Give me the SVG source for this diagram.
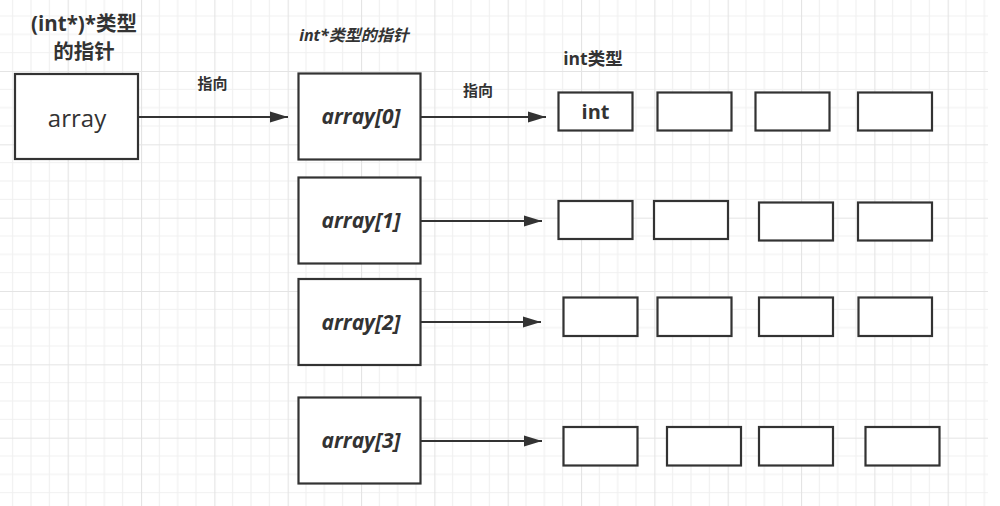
<svg xmlns="http://www.w3.org/2000/svg" width="1000" height="506" viewBox="0 0 1000 506">
  <defs>
    <pattern id="grid" patternUnits="userSpaceOnUse" x="-5.67" y="-2.33" width="73.333" height="73.333">
      <path d="M18.33 0V73.333M36.67 0V73.333M55 0V73.333M0 18.33H73.333M0 36.67H73.333M0 55H73.333" stroke="#f0f0f0" stroke-width="1.2" fill="none"/>
      <path d="M0.5 0V73.333M0 0.5H73.333" stroke="#e4e4e4" stroke-width="1.2" fill="none"/>
    </pattern>
    <marker id="arr" markerUnits="userSpaceOnUse" markerWidth="20" markerHeight="12" refX="18" refY="6" orient="auto">
      <path d="M0,0.5 L18,6 L0,11.5 Z" fill="#333"/>
    </marker>
  </defs>
  <style>
    .box{fill:#fff;stroke:#333;stroke-width:2.2}
    .conn{stroke:#333;stroke-width:2;fill:none;marker-end:url(#arr)}
    .t{font-family:"Open Sans","Noto Sans CJK SC",sans-serif;fill:#333}
    .ital{font-style:italic;font-weight:bold;font-size:21px;text-anchor:middle}
    .lbl{font-size:15px;font-weight:600;text-anchor:middle}
  </style>
  <rect x="0" y="0" width="1000" height="506" fill="#fff"/>
  <rect x="0" y="0" width="988" height="506" fill="url(#grid)"/>

  <g id="labels">
    <text class="t" x="84" y="31" font-size="20.5" font-weight="bold" text-anchor="middle">(int*)*类型</text>
    <text class="t" x="84" y="59" font-size="20.5" font-weight="bold" text-anchor="middle">的指针</text>
    <text class="t" x="354" y="41" font-size="16" font-weight="bold" font-style="italic" text-anchor="middle">int*类型的指针</text>
    <text class="t" x="593" y="65" font-size="17.5" font-weight="bold" text-anchor="middle">int类型</text>
  </g>

  <g id="connectors">
    <line class="conn" x1="139" y1="117" x2="288" y2="117"/>
    <line class="conn" x1="421" y1="117" x2="546" y2="117"/>
    <line class="conn" x1="421" y1="221" x2="542" y2="221"/>
    <line class="conn" x1="421" y1="322" x2="541" y2="322"/>
    <line class="conn" x1="421" y1="441" x2="542" y2="441"/>
    <text class="t lbl" x="212.5" y="89">指向</text>
    <text class="t lbl" x="478" y="96">指向</text>
  </g>

  <g id="node-array">
    <rect class="box" x="15" y="74" width="123" height="85"/>
    <text class="t" x="77" y="126.5" font-size="24" text-anchor="middle">array</text>
  </g>

  <g id="node-array0">
    <rect class="box" x="298.5" y="73.5" width="122" height="86"/>
    <text class="t ital" x="361" y="124">array[0]</text>
  </g>
  <g id="node-array1">
    <rect class="box" x="298.5" y="177.5" width="122" height="86"/>
    <text class="t ital" x="361" y="228">array[1]</text>
  </g>
  <g id="node-array2">
    <rect class="box" x="298.5" y="279" width="122" height="86"/>
    <text class="t ital" x="361" y="329.5">array[2]</text>
  </g>
  <g id="node-array3">
    <rect class="box" x="298.5" y="397.5" width="122" height="86"/>
    <text class="t ital" x="361" y="448">array[3]</text>
  </g>

  <g id="row0">
    <g id="r0c0"><rect class="box" x="558.5" y="92.5" width="74" height="38"/>
      <text class="t" x="595.5" y="119" font-size="20" font-weight="bold" text-anchor="middle">int</text></g>
    <g id="r0c1"><rect class="box" x="657.5" y="92.5" width="74" height="38"/></g>
    <g id="r0c2"><rect class="box" x="755.5" y="92.5" width="74" height="38"/></g>
    <g id="r0c3"><rect class="box" x="858" y="92.5" width="74" height="38"/></g>
  </g>
  <g id="row1">
    <g id="r1c0"><rect class="box" x="558.5" y="201" width="74" height="38"/></g>
    <g id="r1c1"><rect class="box" x="654" y="201" width="74" height="38"/></g>
    <g id="r1c2"><rect class="box" x="759" y="202.5" width="74" height="38"/></g>
    <g id="r1c3"><rect class="box" x="858" y="202.5" width="74" height="38"/></g>
  </g>
  <g id="row2">
    <g id="r2c0"><rect class="box" x="563.5" y="297.5" width="74" height="38.5"/></g>
    <g id="r2c1"><rect class="box" x="657.5" y="297.5" width="74" height="38.5"/></g>
    <g id="r2c2"><rect class="box" x="759" y="297.5" width="74" height="38.5"/></g>
    <g id="r2c3"><rect class="box" x="858.5" y="297.5" width="73.5" height="38.5"/></g>
  </g>
  <g id="row3">
    <g id="r3c0"><rect class="box" x="563.5" y="427" width="74" height="38.5"/></g>
    <g id="r3c1"><rect class="box" x="667" y="427" width="74" height="38.5"/></g>
    <g id="r3c2"><rect class="box" x="759" y="427" width="74" height="38.5"/></g>
    <g id="r3c3"><rect class="box" x="865.5" y="427" width="74" height="38.5"/></g>
  </g>
</svg>
